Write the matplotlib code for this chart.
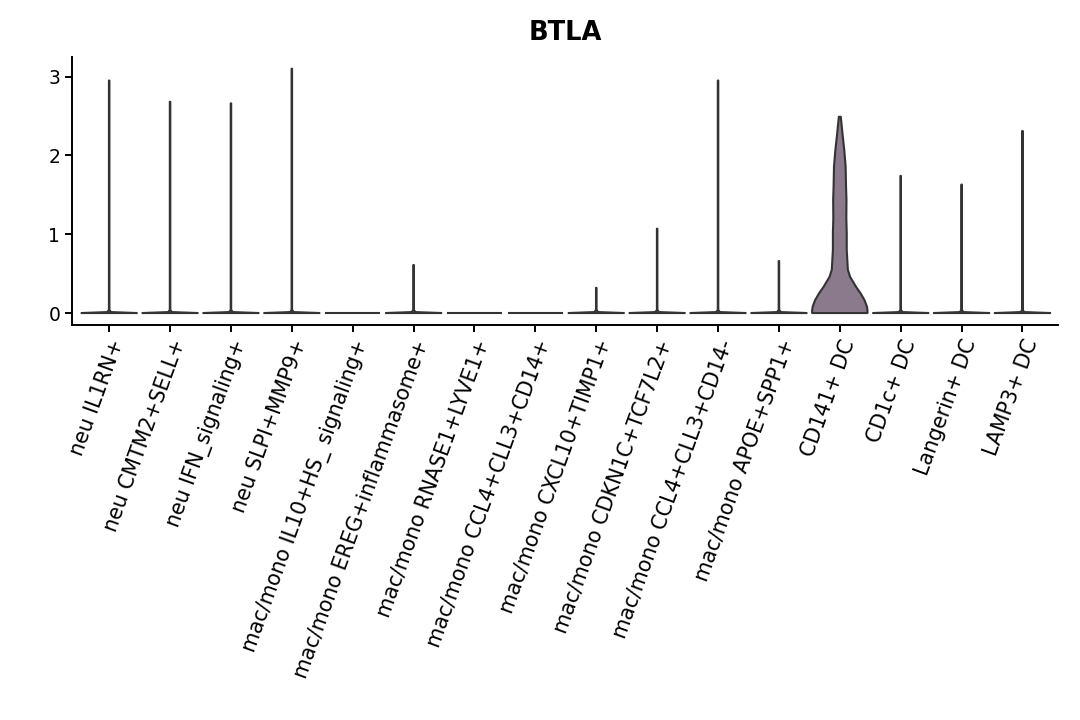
import numpy as np
import matplotlib
matplotlib.use('Agg')
import matplotlib.pyplot as plt
from matplotlib.patches import Polygon

# Grupos (clusters) y valor maximo de expresion de BTLA en cada uno
grupos = ['neu IL1RN+', 'neu CMTM2+SELL+', 'neu IFN_signaling+', 'neu SLPI+MMP9+',
          'mac/mono IL10+HS_ signaling+', 'mac/mono EREG+inflammasome+',
          'mac/mono RNASE1+LYVE1+', 'mac/mono CCL4+CLL3+CD14+',
          'mac/mono CXCL10+TIMP1+', 'mac/mono CDKN1C+TCF7L2+',
          'mac/mono CCL4+CLL3+CD14-', 'mac/mono APOE+SPP1+',
          'CD141+ DC', 'CD1c+ DC', 'Langerin+ DC', 'LAMP3+ DC']
maximos = [2.95, 2.68, 2.66, 3.10, 0.0, 0.61, 0.0, 0.0,
           0.32, 1.07, 2.95, 0.66, 2.49, 1.74, 1.63, 2.31]

# Perfil del violin de CD141+ DC (nivel de expresion, semiancho relativo)
cd141_y = [0.0, 0.03, 0.08, 0.165, 0.25, 0.33, 0.46, 0.55, 0.8, 1.01, 1.2,
           1.44, 1.6, 1.86, 2.07, 2.28, 2.49]
cd141_w = [1.0, 1.0, 0.98, 0.89, 0.75, 0.59, 0.37, 0.29, 0.25, 0.25, 0.235,
           0.24, 0.225, 0.21, 0.16, 0.095, 0.035]

colores = ['#8A7A8C'] * len(grupos)

fig = plt.figure(figsize=(10.8, 7.2), dpi=100)
ax = fig.add_axes([0.0667, 0.5486, 0.9133, 0.3724])

ancho = 0.455
for i, (g, m) in enumerate(zip(grupos, maximos)):
    if g == 'CD141+ DC':
        ys = np.array(cd141_y)
        ws = np.array(cd141_w) * ancho
    elif m > 0:
        ys = np.array([0.0, 0.012, 0.04, m])
        ws = np.array([ancho, 0.03, 0.004, 0.004])
    else:
        ys = np.array([0.0, 0.0])
        ws = np.array([ancho, ancho])
    xs = np.concatenate([i - ws, (i + ws)[::-1]])
    yy = np.concatenate([ys, ys[::-1]])
    ax.add_patch(Polygon(np.column_stack([xs, yy]), closed=True,
                         facecolor=colores[i], edgecolor='#333333',
                         linewidth=1.5, joinstyle='round'))

ax.set_xlim(-0.61, len(grupos) - 1 + 0.59)
ax.set_ylim(-0.152, 3.25)
ax.set_yticks([0, 1, 2, 3])
ax.set_xticks(range(len(grupos)))
ax.set_xticklabels(grupos, rotation=70, ha='right', rotation_mode='anchor',
                   fontsize=14.8)
ax.tick_params(axis='y', labelsize=13.5)
ax.tick_params(width=1.4, length=5, color='black')
for lado in ['top', 'right']:
    ax.spines[lado].set_visible(False)
for lado in ['left', 'bottom']:
    ax.spines[lado].set_linewidth(1.4)
ax.set_title('BTLA', fontsize=18.5, fontweight='bold', pad=12)

fig.savefig('out.png', dpi=100)
